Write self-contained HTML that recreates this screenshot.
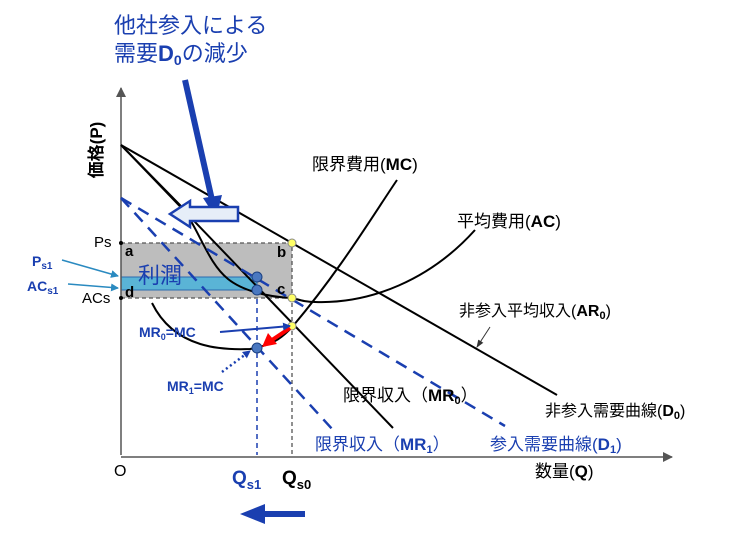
<!DOCTYPE html>
<html><head><meta charset="utf-8"><style>
html,body{margin:0;padding:0;background:#fff;}
svg{display:block;font-family:"Liberation Sans","Noto Sans CJK JP",sans-serif;}
.b{fill:#1a3fb0;}
</style></head><body>
<svg width="744" height="539" viewBox="0 0 744 539" xmlns="http://www.w3.org/2000/svg">
<defs>
<marker id="ah" markerWidth="8" markerHeight="8" refX="7" refY="4" orient="auto" markerUnits="userSpaceOnUse"><path d="M0,0 L8,4 L0,8 z" fill="#1a3fb0"/></marker>
<marker id="ak" markerWidth="8" markerHeight="8" refX="7" refY="4" orient="auto" markerUnits="userSpaceOnUse"><path d="M0,1 L8,4 L0,7 z" fill="#333"/></marker>
<marker id="ag" markerWidth="10" markerHeight="10" refX="9" refY="5" orient="auto" markerUnits="userSpaceOnUse"><path d="M0,0 L10,5 L0,10 z" fill="#555"/></marker>
<marker id="al" markerWidth="8" markerHeight="8" refX="7" refY="4" orient="auto" markerUnits="userSpaceOnUse"><path d="M0,0 L8,4 L0,8 z" fill="#2a8ac0"/></marker>
</defs>
<rect x="121" y="243" width="171" height="55" fill="#bdbdbd"/>
<rect x="121" y="277" width="136" height="13" fill="#5ab4d6" stroke="#2a6ab0" stroke-width="1"/>
<path d="M121,243 H292 V455 M121,298 H292" fill="none" stroke="#555" stroke-width="1.3" stroke-dasharray="4,3"/>
<line x1="257" y1="290" x2="257" y2="455" stroke="#1a3fb0" stroke-width="1.5" stroke-dasharray="5,4"/>
<line x1="121" y1="455" x2="121" y2="88" stroke="#555" stroke-width="1.5" marker-end="url(#ag)"/>
<line x1="121" y1="457" x2="672" y2="457" stroke="#555" stroke-width="1.5" marker-end="url(#ag)"/>
<line x1="121" y1="145" x2="557" y2="395" stroke="#000" stroke-width="2"/>
<line x1="121" y1="145" x2="393" y2="428" stroke="#000" stroke-width="2"/>
<path d="M121,145 L180,205 C200,230 207,262 228,279 C243,291 268,297 292,298 C300,300 305,302 315,302 C370,304 430,280 475,230" fill="none" stroke="#000" stroke-width="2"/>
<path d="M152,303 C175,350 225,350 250,349 C275,345 285,335 293,326 C340,270 370,220 397,180" fill="none" stroke="#000" stroke-width="2"/>
<line x1="121" y1="198" x2="505" y2="426" stroke="#1a3fb0" stroke-width="2.5" stroke-dasharray="12,8"/>
<line x1="121" y1="198" x2="333" y2="430" stroke="#1a3fb0" stroke-width="2.5" stroke-dasharray="12,8"/>
<circle cx="292" cy="243" r="4" fill="#ffff66" stroke="#888"/>
<circle cx="292" cy="298" r="4" fill="#ffff66" stroke="#888"/>
<circle cx="292" cy="326" r="4" fill="#ffff66" stroke="#888"/>
<circle cx="257" cy="277" r="5" fill="#4a78c0" stroke="#1a3f80"/>
<circle cx="257" cy="290" r="5" fill="#4a78c0" stroke="#1a3f80"/>
<circle cx="257" cy="348" r="5" fill="#4a78c0" stroke="#1a3f80"/>
<circle cx="121" cy="243" r="2" fill="#000"/><circle cx="121" cy="298" r="2" fill="#000"/>
<line x1="290" y1="328" x2="272" y2="340" stroke="#f00" stroke-width="4"/>
<path d="M262,347 L268,333 L277,344 z" fill="#f00"/>
<line x1="185" y1="80" x2="212" y2="200" stroke="#1a3fb0" stroke-width="6"/>
<path d="M203,198 L216,218 L222,195 z" fill="#1a3fb0"/>
<path d="M238,207 H190 V201 L170,214 L190,227 V221 H238 z" fill="#e6eef8" stroke="#1a3fb0" stroke-width="2.5"/>
<line x1="305" y1="514" x2="262" y2="514" stroke="#1a3fb0" stroke-width="6"/>
<path d="M265,504 L240,514 L265,524 z" fill="#1a3fb0"/>
<line x1="62" y1="260" x2="118" y2="276" stroke="#2a8ac0" stroke-width="1.5" marker-end="url(#al)"/>
<line x1="68" y1="284" x2="118" y2="288" stroke="#2a8ac0" stroke-width="1.5" marker-end="url(#al)"/>
<line x1="220" y1="332" x2="290" y2="326" stroke="#1a3fb0" stroke-width="2" marker-end="url(#ah)"/>
<line x1="222" y1="372" x2="250" y2="351" stroke="#1a3fb0" stroke-width="2.5" stroke-dasharray="2,3" marker-end="url(#ah)"/>
<line x1="490" y1="327" x2="477" y2="347" stroke="#333" stroke-width="1" marker-end="url(#ak)"/>
<text x="114" y="33" font-size="22" class="b">他社参入による</text>
<text x="114" y="61" font-size="22" class="b">需要<tspan font-weight="bold">D</tspan><tspan font-weight="bold" font-size="14" dy="4">0</tspan><tspan dy="-4">の減少</tspan></text>
<text transform="translate(102,150) rotate(-90)" font-size="17" font-weight="bold" text-anchor="middle">価格(P)</text>
<text x="94" y="247" font-size="15">Ps</text>
<text x="82" y="303" font-size="15">ACs</text>
<text x="125" y="256" font-size="15" font-weight="bold">a</text>
<text x="277" y="257" font-size="15" font-weight="bold">b</text>
<text x="277" y="294" font-size="15" font-weight="bold">c</text>
<text x="125" y="297" font-size="15" font-weight="bold">d</text>
<text x="138" y="283" font-size="22" class="b">利潤</text>
<text x="32" y="266" font-size="14" font-weight="bold" class="b">P<tspan font-size="10" dy="3">s1</tspan></text>
<text x="27" y="291" font-size="14" font-weight="bold" class="b">AC<tspan font-size="10" dy="3">s1</tspan></text>
<text x="139" y="337" font-size="14" font-weight="bold" class="b">MR<tspan font-size="9" dy="3">0</tspan><tspan dy="-3">=MC</tspan></text>
<text x="167" y="391" font-size="14" font-weight="bold" class="b">MR<tspan font-size="9" dy="3">1</tspan><tspan dy="-3">=MC</tspan></text>
<text x="312" y="170" font-size="17">限界費用(<tspan font-weight="bold">MC</tspan>)</text>
<text x="457" y="227" font-size="17">平均費用(<tspan font-weight="bold">AC</tspan>)</text>
<text x="459" y="316" font-size="16">非参入平均収入(<tspan font-weight="bold">AR</tspan><tspan font-size="11" font-weight="bold" dy="3">0</tspan><tspan dy="-3">)</tspan></text>
<text x="343" y="401" font-size="17">限界収入（<tspan font-weight="bold">MR</tspan><tspan font-size="11" font-weight="bold" dy="3">0</tspan><tspan dy="-3">）</tspan></text>
<text x="545" y="416" font-size="16">非参入需要曲線(<tspan font-weight="bold">D</tspan><tspan font-size="11" font-weight="bold" dy="3">0</tspan><tspan dy="-3">)</tspan></text>
<text x="315" y="450" font-size="17" class="b">限界収入（<tspan font-weight="bold">MR</tspan><tspan font-size="11" font-weight="bold" dy="3">1</tspan><tspan dy="-3">）</tspan></text>
<text x="490" y="450" font-size="17" class="b">参入需要曲線(<tspan font-weight="bold">D</tspan><tspan font-size="11" font-weight="bold" dy="3">1</tspan><tspan dy="-3">)</tspan></text>
<text x="535" y="477" font-size="17">数量(<tspan font-weight="bold">Q</tspan>)</text>
<text x="114" y="476" font-size="16">O</text>
<text x="232" y="484" font-size="19" font-weight="bold" class="b">Q<tspan font-size="13" dy="5">s1</tspan></text>
<text x="282" y="484" font-size="19" font-weight="bold">Q<tspan font-size="13" dy="5">s0</tspan></text>
</svg>
</body></html>
